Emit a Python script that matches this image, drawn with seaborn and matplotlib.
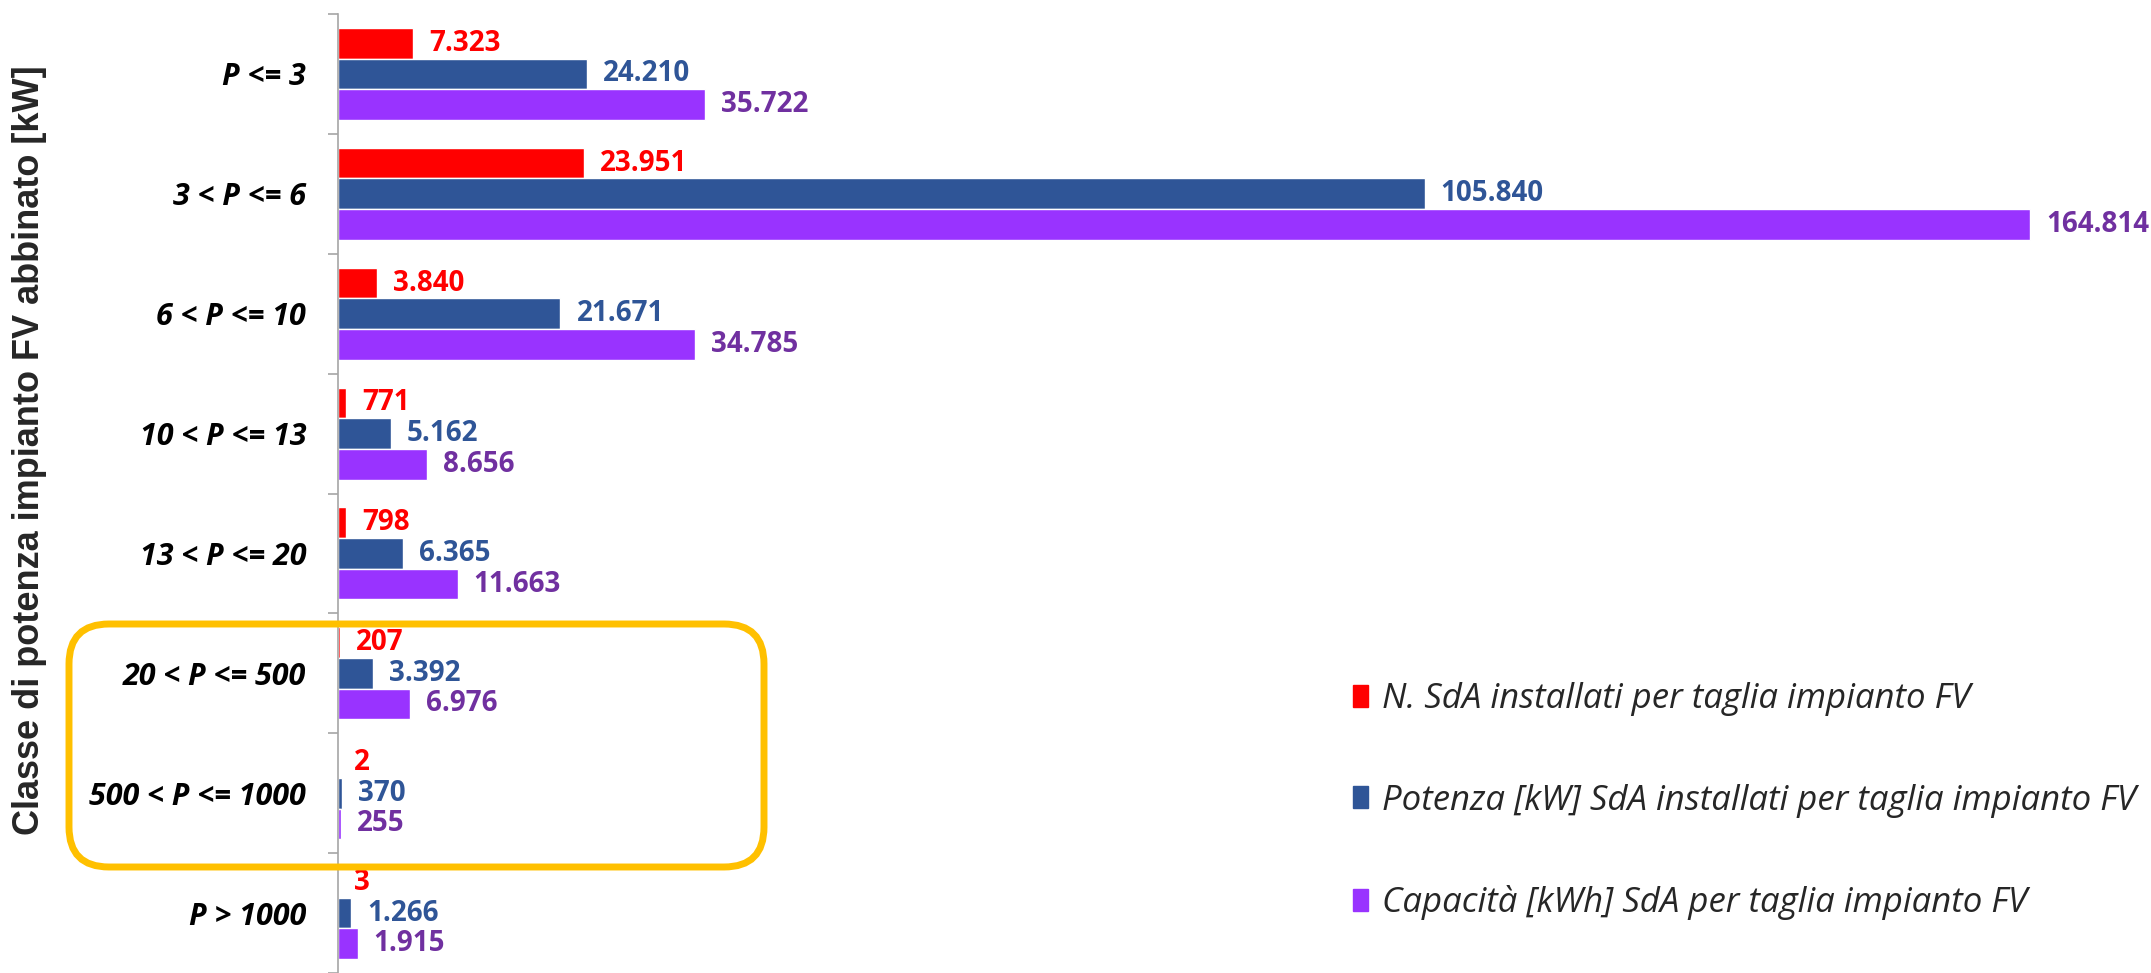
import numpy as np
import pandas as pd
import matplotlib.pyplot as plt
import seaborn as sns
from matplotlib.patches import FancyBboxPatch

categories = ["P <= 3", "3 < P <= 6", "6 < P <= 10", "10 < P <= 13",
              "13 < P <= 20", "20 < P <= 500", "500 < P <= 1000", "P > 1000"]
series = ["N. SdA installati per taglia impianto FV",
          "Potenza [kW] SdA installati per taglia impianto FV",
          "Capacità [kWh] SdA per taglia impianto FV"]
n_sda = [7323, 23951, 3840, 771, 798, 207, 2, 3]
potenza = [24210, 105840, 21671, 5162, 6365, 3392, 370, 1266]
capacita = [35722, 164814, 34785, 8656, 11663, 6976, 255, 1915]

bar_colors = ["#FF0000", "#2F5597", "#9933FF"]
text_colors = ["#FF0000", "#2F5597", "#7030A0"]

df = pd.DataFrame({
    "classe": categories * 3,
    "serie": [series[0]] * 8 + [series[1]] * 8 + [series[2]] * 8,
    "valore": n_sda + potenza + capacita,
})

sns.set_theme(style="white")
plt.rcParams["font.family"] = ["Open Sans", "DejaVu Sans"]

fig = plt.figure(figsize=(21.51, 9.73), dpi=100)
ax = fig.add_axes([338 / 2151, 0, 1 - 338 / 2151, 1 - 14 / 973])

sns.barplot(data=df, x="valore", y="classe", hue="serie", orient="h",
            palette=bar_colors, saturation=1, width=0.767, ax=ax, legend=False)

ax.set_xlim(0, 176600)
ax.set_ylim(7.5, -0.5)

# value labels, italian thousands separator
for cont, col in zip(ax.containers, text_colors):
    labels = [f"{b.get_width():,.0f}".replace(",", ".") for b in cont]
    ax.bar_label(cont, labels=labels, padding=11.5, color=col,
                 fontsize=20, fontweight="bold")

ax.xaxis.set_visible(False)
for s in ["top", "right", "bottom"]:
    ax.spines[s].set_visible(False)
ax.spines["left"].set_color("#A6A6A6")
ax.spines["left"].set_linewidth(1.2)

ax.set_yticks(np.arange(-0.5, 8, 1), minor=True)
ax.tick_params(axis="y", which="minor", length=7, color="#A6A6A6", width=1.2, left=True)
ax.tick_params(axis="y", which="major", length=0, pad=23)
for lab in ax.get_yticklabels():
    lab.set_fontsize(22)
    lab.set_fontweight("bold")
    lab.set_fontstyle("italic")
    lab.set_color("black")
ax.set_ylabel("")

fig.text(30 / 2151, 1 - 450 / 973, "Classe di potenza impianto FV abbinato [kW]",
         rotation=90, ha="center", va="center", fontsize=26, fontweight="bold",
         family=["Liberation Sans", "DejaVu Sans"])

handles = [plt.Rectangle((0, 0), 1, 1, color=c) for c in bar_colors]
fig.legend(handles, series, loc="center left",
           bbox_to_anchor=(1322 / 2151, 1 - 801 / 973), frameon=False,
           prop={"size": 25, "style": "italic"}, handlelength=0.42,
           handleheight=0.6, handletextpad=0.4, labelspacing=1.95)

# highlight box
box = FancyBboxPatch((0.69 + 0.4, 1.06 + 0.4), 6.95 - 0.8, 2.43 - 0.8,
                     boxstyle="round,pad=0.4", transform=fig.dpi_scale_trans,
                     fill=False, edgecolor="#FFC000", linewidth=5, clip_on=False)
fig.patches.append(box)

fig.savefig("out.png", dpi=100)
